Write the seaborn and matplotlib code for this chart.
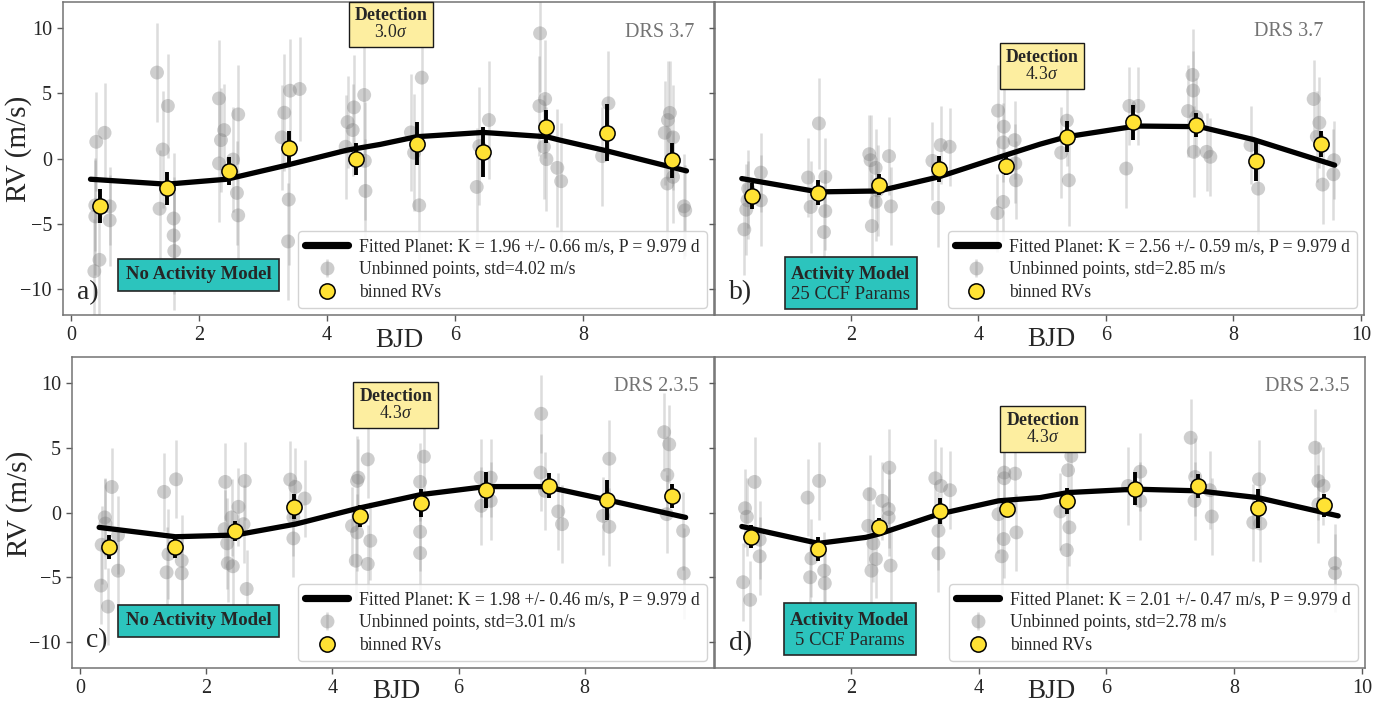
import numpy as np
import matplotlib
matplotlib.use("Agg")
import matplotlib.pyplot as plt
import seaborn as sns
from matplotlib.lines import Line2D

# ---------------- data ----------------
# panel a  (DRS 3.7, no activity model)
gray_x_a = [0.39, 0.52, 0.375, 0.60, 0.375, 0.60, 0.44, 0.36, 1.34, 1.51, 1.43, 1.38, 1.60, 1.60, 1.61,
            2.31, 2.61, 2.39, 2.34, 2.31, 2.53, 2.59, 2.61, 3.42, 3.57, 3.33, 3.29, 3.40, 3.39,
            4.58, 4.42, 4.32, 4.40, 4.29, 4.59, 4.60, 5.48, 5.31, 5.36, 5.44, 6.53, 6.38, 6.34,
            7.33, 7.41, 7.32, 7.39, 7.43, 7.60, 7.66, 8.40, 8.30, 9.36, 9.33, 9.28, 9.41, 9.41, 9.32, 9.58, 9.60]
gray_y_a = [1.28, 1.97, -3.59, -3.67, -4.44, -4.74, -7.77, -8.64, 6.59, 4.03, 0.69, -3.85, -4.60, -5.90, -7.10,
            4.60, 3.38, 2.18, 1.41, -0.38, -0.08, -2.64, -4.36, 5.20, 5.33, 3.51, 1.62, -3.15, -6.36,
            4.87, 3.92, 2.79, 2.18, 0.90, -0.18, -2.49, 6.20, 2.00, 0.44, -3.59, 2.95, 0.95, -2.18,
            9.60, 4.56, 4.03, 0.90, -0.05, -0.72, -1.74, 4.23, 0.18, 3.50, 2.95, 1.97, 1.62, -1.41, -1.92, -3.67, -3.97]
gray_e_a = [3.8, 3.8, 3.5, 3.0, 4.5, 3.5, 4.5, 4.0, 3.8, 4.0, 4.5, 4.5, 5.0, 4.5, 4.5,
            4.5, 3.8, 3.5, 4.0, 4.5, 4.0, 4.0, 3.5, 4.0, 4.0, 4.5, 4.0, 5.0, 4.5,
            4.5, 4.0, 3.5, 3.5, 4.0, 4.5, 4.0, 4.5, 4.5, 4.5, 4.5, 4.5, 4.5, 4.5,
            4.5, 4.5, 3.8, 4.0, 4.0, 4.5, 4.5, 4.0, 3.8, 4.0, 4.5, 4.0, 4.0, 3.5, 4.5, 4.0, 3.5]
bin_x_a = [0.45, 1.50, 2.46, 3.40, 4.45, 5.40, 6.44, 7.43, 8.37, 9.40]
bin_y_a = [-3.64, -2.30, -0.95, 0.77, -0.03, 1.15, 0.49, 2.44, 1.97, -0.13]
bin_e_a = [1.3, 1.3, 1.1, 1.35, 1.2, 1.65, 1.9, 1.25, 2.2, 1.35]
fit_x_a = [0.30, 1.49, 2.43, 3.37, 4.31, 4.83, 5.40, 6.44, 7.43, 7.64, 8.37, 9.62]
fit_y_a = [-1.59, -1.97, -1.59, -0.51, 0.64, 1.08, 1.67, 2.00, 1.67, 1.41, 0.59, -0.95]

# panel b  (DRS 3.7, activity model 25 CCF params)
gray_x_b = [0.59, 0.39, 0.59, 0.38, 0.36, 0.33, 1.50, 1.33, 1.60, 1.37, 1.60, 1.58,
            2.29, 2.60, 2.31, 2.39, 2.42, 2.39, 2.63, 2.33, 3.41, 3.55, 3.28, 3.37,
            4.31, 4.40, 4.39, 4.57, 4.58, 4.59, 4.39, 4.30, 5.39, 5.30, 5.42, 6.37, 6.51, 6.32,
            7.36, 7.37, 7.29, 7.42, 7.38, 7.58, 7.64, 8.27, 8.39, 9.26, 9.35, 9.31, 9.58, 9.57, 9.40]
gray_y_b = [-1.08, -2.31, -3.21, -3.20, -3.92, -5.44, 2.69, -1.46, -1.41, -3.72, -4.03, -5.64,
            0.33, 0.18, -0.13, -0.72, -2.44, -3.33, -3.67, -5.18, 1.03, 0.90, -0.18, -3.79,
            3.67, 2.44, 1.23, 1.41, -0.38, -1.67, -3.33, -4.18, 2.90, 0.44, -1.67, 4.03, 4.03, -0.77,
            6.41, 5.21, 3.64, 3.20, 0.51, 0.51, 0.13, 1.03, -2.31, 4.56, 2.74, 1.67, -0.13, -1.21, -2.00]
gray_e_b = [3.0, 3.0, 3.5, 3.0, 3.5, 3.5, 3.5, 3.0, 3.0, 3.5, 3.0, 3.0,
            3.0, 3.0, 3.5, 3.0, 3.5, 3.0, 3.0, 4.0, 3.0, 3.0, 3.0, 3.0,
            3.5, 3.0, 3.0, 3.0, 3.0, 3.0, 3.0, 3.0, 3.5, 3.5, 3.5, 3.0, 3.0, 3.0,
            3.5, 3.0, 3.5, 3.0, 3.5, 3.0, 3.0, 3.0, 3.5, 3.0, 3.5, 3.5, 3.0, 3.5, 3.0]
bin_x_b = [0.45, 1.49, 2.44, 3.38, 4.44, 5.39, 6.43, 7.42, 8.35, 9.38]
bin_y_b = [-2.87, -2.62, -2.00, -0.77, -0.56, 1.67, 2.77, 2.56, -0.21, 1.10]
bin_e_b = [1.0, 0.95, 0.8, 1.0, 0.7, 1.2, 1.35, 0.9, 1.5, 1.0]
fit_x_b = [0.29, 1.49, 2.44, 3.38, 4.43, 4.97, 5.39, 6.48, 7.48, 7.58, 8.31, 9.59]
fit_y_b = [-1.54, -2.56, -2.49, -1.41, 0.26, 1.10, 1.67, 2.49, 2.44, 2.31, 1.46, -0.51]

# panel c  (DRS 2.3.5, no activity model)
gray_x_c = [0.50, 0.39, 0.40, 0.60, 0.34, 0.60, 0.33, 0.44, 1.52, 1.33, 1.40, 1.61, 1.37, 1.61,
            2.30, 2.61, 2.51, 2.40, 2.29, 2.59, 2.33, 2.34, 2.42, 2.64, 3.33, 3.41, 3.56, 3.38, 3.38,
            4.41, 4.39, 4.56, 4.31, 4.39, 4.60, 4.37, 4.56, 5.45, 5.39, 5.39, 5.39,
            6.35, 6.51, 6.36, 6.51, 7.31, 7.30, 7.37, 7.58, 7.64, 8.39, 8.29, 8.39,
            9.26, 9.34, 9.31, 9.30, 9.56, 9.57]
gray_y_c = [1.97, -0.38, -0.85, -1.74, -2.49, -4.49, -5.64, -7.26, 2.56, 1.59, -3.21, -3.72, -4.62, -4.69,
            2.36, 2.44, 0.44, -0.38, -1.28, -0.90, -2.38, -3.92, -4.15, -5.90, 2.54, 1.97, 1.08, -0.38, -2.00,
            2.69, 2.44, 4.10, -1.03, -1.54, -2.18, -3.72, -3.97, 4.31, 2.36, -1.49, -3.13,
            2.69, 2.69, 0.51, 0.90, 7.62, 3.08, 1.67, 0.08, -0.90, 4.15, -0.26, -1.10,
            6.20, 5.26, 2.90, -0.13, -1.41, -4.69]
gray_e_c = [3.0, 3.0, 3.5, 3.0, 3.0, 3.0, 3.0, 3.0, 3.0, 3.0, 3.5, 3.5, 3.5, 3.0,
            3.0, 3.0, 3.0, 3.0, 3.0, 3.0, 3.5, 3.0, 3.0, 3.0, 3.0, 3.0, 3.0, 3.0, 3.0,
            3.0, 3.5, 3.0, 3.0, 3.0, 3.0, 3.0, 3.0, 3.5, 3.0, 3.0, 3.5,
            3.0, 3.0, 3.0, 3.0, 3.0, 3.0, 3.0, 3.0, 3.0, 3.0, 3.0, 3.0,
            3.0, 3.0, 3.0, 3.0, 3.0, 3.5]
bin_x_c = [0.45, 1.51, 2.45, 3.39, 4.44, 5.40, 6.43, 7.43, 8.36, 9.39]
bin_y_c = [-2.64, -2.64, -1.41, 0.46, -0.26, 0.72, 1.74, 2.05, 0.97, 1.28]
bin_e_c = [0.92, 0.88, 0.77, 1.0, 0.85, 1.1, 1.37, 0.96, 1.56, 0.95]
fit_x_c = [0.30, 1.51, 2.46, 3.41, 4.41, 5.40, 6.43, 7.41, 7.57, 8.36, 9.60]
fit_y_c = [-1.15, -1.87, -1.74, -0.90, 0.33, 1.38, 2.00, 2.00, 1.80, 0.97, -0.38]

# panel d  (DRS 2.3.5, activity model 5 CCF params)
gray_x_d = [0.49, 0.34, 0.37, 0.57, 0.57, 0.31, 0.42, 1.50, 1.32, 1.38, 1.58, 1.36, 1.59,
            2.60, 2.29, 2.49, 2.59, 2.59, 2.27, 2.35, 2.39, 2.32, 2.62, 3.32, 3.41, 3.55, 3.37, 3.37,
            4.40, 4.57, 4.40, 4.31, 4.59, 4.39, 4.36, 5.45, 5.40, 5.28, 5.42, 5.38,
            6.53, 6.34, 6.53, 7.32, 7.39, 7.38, 7.62, 7.65, 8.39, 8.30, 8.41,
            9.27, 9.32, 9.40, 9.32, 9.58, 9.58]
gray_y_d = [2.36, 0.33, -0.33, -2.10, -3.38, -5.38, -6.74, 2.44, 1.15, -3.54, -4.49, -5.00, -5.46,
            3.46, 1.41, 0.90, 0.26, -0.38, -1.03, -2.38, -3.59, -4.49, -4.10, 2.64, 2.05, 1.72, -1.41, -3.15,
            3.08, 3.00, 2.64, -0.13, -1.54, -2.05, -3.38, 4.36, 3.26, 0.08, -1.15, -2.90,
            3.15, 2.05, 0.90, 5.77, 2.74, 0.90, 1.72, -0.31, 2.56, -0.77, -0.85,
            5.00, 2.44, 2.05, 0.64, -3.92, -4.67]
gray_e_d = [3.5, 3.0, 3.0, 3.0, 3.0, 3.0, 3.0, 3.0, 3.0, 3.0, 3.0, 3.0, 3.0,
            3.0, 3.0, 3.0, 3.0, 3.0, 3.0, 3.0, 3.0, 3.0, 3.0, 3.0, 3.0, 3.0, 3.0, 3.0,
            3.0, 3.0, 3.0, 3.0, 3.0, 3.0, 3.0, 3.0, 3.0, 3.0, 3.0, 3.0,
            3.0, 3.0, 3.0, 3.0, 3.0, 3.0, 3.0, 3.0, 3.0, 3.0, 3.0,
            3.0, 3.0, 3.0, 3.0, 3.0, 3.0]
bin_x_d = [0.43, 1.49, 2.44, 3.39, 4.45, 5.39, 6.45, 7.44, 8.37, 9.41]
bin_y_d = [-1.87, -2.82, -1.10, 0.13, 0.26, 0.90, 1.85, 2.05, 0.31, 0.56]
bin_e_d = [0.9, 0.9, 0.7, 1.0, 0.64, 1.0, 1.28, 0.9, 1.47, 0.9]
fit_x_d = [0.29, 1.49, 2.23, 2.43, 3.37, 4.31, 4.96, 5.40, 6.45, 7.46, 7.67, 8.37, 9.63]
fit_y_d = [-1.08, -2.38, -1.92, -1.67, -0.13, 0.90, 1.15, 1.54, 1.80, 1.67, 1.54, 1.15, -0.26]

# text
panel_letters = ["a)", "b)", "c)", "d)"]
drs_labels = ["DRS 3.7", "DRS 3.7", "DRS 2.3.5", "DRS 2.3.5"]
detection_sigmas = ["3.0", "4.3", "4.3", "4.3"]
model_labels = ["No Activity Model", "Activity Model\n25 CCF Params",
                "No Activity Model", "Activity Model\n5 CCF Params"]
fit_K = ["1.96", "2.56", "1.98", "2.01"]
fit_Kerr = ["0.66", "0.59", "0.46", "0.47"]
unbinned_std = ["4.02", "2.85", "3.01", "2.78"]
period_label = "9.979"
xticks_left = [0, 2, 4, 6, 8]
xticks_right = [2, 4, 6, 8, 10]
yticks = [-10, -5, 0, 5, 10]

# ---------------- style ----------------
sns.set_theme(style="ticks")
plt.rcParams['font.family'] = ['Liberation Serif', 'DejaVu Serif']
plt.rcParams['mathtext.fontset'] = 'custom'
plt.rcParams['mathtext.rm'] = 'Liberation Serif'
plt.rcParams['mathtext.it'] = 'Liberation Serif:italic'
plt.rcParams['mathtext.bf'] = 'Liberation Serif:bold'

W, H = 1400, 712
fig = plt.figure(figsize=(W / 100, H / 100), dpi=100)
fig.patch.set_facecolor('white')

YELLOW = '#FFE234'
TEAL = '#2cc4bd'
PALE = '#fdeea0'
GRAY_M = (0.5, 0.5, 0.5, 0.4)
GRAY_E = (0.55, 0.55, 0.55, 0.3)

panels = [
    dict(gx=gray_x_a, gy=gray_y_a, ge=gray_e_a, bx=bin_x_a, by=bin_y_a, be=bin_e_a, fx=fit_x_a, fy=fit_y_a,
         box=(63, 714, 2, 315), left=True, det_y=10.3, mod=(1.99, -8.9), drs=(9.75, 9.64), let_y=-10.75,
         xl=(0.516, -0.083), yl=(-0.068, 0.53)),
    dict(gx=gray_x_b, gy=gray_y_b, ge=gray_e_b, bx=bin_x_b, by=bin_y_b, be=bin_e_b, fx=fit_x_b, fy=fit_y_b,
         box=(715, 1364, 2, 315), left=False, det_y=7.1, mod=(2.0, -9.6), drs=(9.42, 9.7), let_y=-10.75,
         xl=(0.518, -0.077), yl=None),
    dict(gx=gray_x_c, gy=gray_y_c, ge=gray_e_c, bx=bin_x_c, by=bin_y_c, be=bin_e_c, fx=fit_x_c, fy=fit_y_c,
         box=(72, 714, 357, 668), left=True, det_y=8.3, mod=(1.88, -8.36), drs=(9.81, 9.7), let_y=-10.4,
         xl=(0.506, -0.074), yl=(-0.082, 0.527)),
    dict(gx=gray_x_d, gy=gray_y_d, ge=gray_e_d, bx=bin_x_d, by=bin_y_d, be=bin_e_d, fx=fit_x_d, fy=fit_y_d,
         box=(715, 1365, 357, 668), left=False, det_y=6.45, mod=(1.98, -9.05), drs=(9.8, 9.7), let_y=-10.65,
         xl=(0.518, -0.077), yl=None),
]

for i, p in enumerate(panels):
    l, r, t, b = p['box']
    ax = fig.add_axes([l / W, 1 - b / H, (r - l) / W, (b - t) / H])
    ax.set_facecolor('white')

    # unbinned points
    ax.errorbar(p['gx'], p['gy'], yerr=p['ge'], fmt='none', ecolor=GRAY_E, elinewidth=1.8, zorder=1)
    sns.scatterplot(x=p['gx'], y=p['gy'], s=100, color=(0.5, 0.5, 0.5), alpha=0.38,
                    edgecolor='none', linewidth=0, ax=ax, zorder=2, legend=False)
    # fitted planet
    sns.lineplot(x=p['fx'], y=p['fy'], color='black', lw=3.8, sort=False, estimator=None,
                 ax=ax, zorder=3, legend=False)
    # binned RVs
    ax.errorbar(p['bx'], p['by'], yerr=p['be'], fmt='none', ecolor='black', elinewidth=2.8, zorder=4)
    sns.scatterplot(x=p['bx'], y=p['by'], s=120, color=YELLOW, edgecolor='black', linewidth=1.1,
                    ax=ax, zorder=5, legend=False)

    ax.set_xlim(-0.13, 10.05)
    ax.set_ylim(-12.0, 12.0)
    ax.set_yticks(yticks)
    if p['left']:
        ax.set_xticks(xticks_left)
        ax.set_ylabel('RV (m/s)', fontsize=21, va='center')
        ax.yaxis.set_label_coords(*p['yl'])
    else:
        ax.set_xticks(xticks_right)
        ax.set_yticklabels([])
        ax.tick_params(axis='y', length=0)
    ax.set_xlabel('BJD', fontsize=19.5, va='center')
    ax.xaxis.set_label_coords(*p['xl'])
    ax.tick_params(labelsize=14.5, length=4, width=1, color='0.35', direction='out', pad=4)
    for s in ax.spines.values():
        s.set_color('0.45')
        s.set_linewidth(1.1)

    # legend
    h_fit = Line2D([], [], color='black', lw=5.2)
    h_unb = ax.errorbar([np.nan], [np.nan], yerr=[1.0], fmt='o', ms=10, mfc=GRAY_M, mec='none',
                        ecolor=GRAY_E, elinewidth=1.8)
    h_bin = Line2D([], [], ls='', marker='o', ms=11, mfc=YELLOW, mec='black', mew=1.1)
    labels = [f"Fitted Planet: K = {fit_K[i]} +/- {fit_Kerr[i]} m/s, P = {period_label} d",
              f"Unbinned points, std={unbinned_std[i]} m/s",
              "binned RVs"]
    leg = ax.legend([h_fit, h_unb, h_bin], labels, loc='lower right', fontsize=12.7,
                    handlelength=2.4, handletextpad=0.65, labelspacing=0.33, borderpad=0.4,
                    borderaxespad=0.4, framealpha=0.85, edgecolor='0.8', fancybox=True)
    leg.set_zorder(10)

    # annotations
    ax.text(p['drs'][0], p['drs'][1], drs_labels[i], ha='right', va='center', fontsize=14.5,
            color='0.45', zorder=6)
    ax.text(5.0, p['det_y'], "$\\mathbf{Detection}$\n" + detection_sigmas[i] + "$\\sigma$",
            ha='center', va='center', fontsize=12.8, linespacing=1.05, zorder=7,
            bbox=dict(boxstyle='square,pad=0.3', fc=PALE, ec='0.1', lw=1.0))
    mtxt = model_labels[i]
    if "\n" in mtxt:
        first, second = mtxt.split("\n")
        mtxt = "$\\mathbf{" + first.replace(" ", "\\ ") + "}$\n" + second
        ax.text(p['mod'][0], p['mod'][1], mtxt, ha='center', va='center', fontsize=13.5,
                linespacing=1.05, zorder=7,
                bbox=dict(boxstyle='square,pad=0.3', fc=TEAL, ec='0.15', lw=1.2))
    else:
        ax.text(p['mod'][0], p['mod'][1], mtxt, ha='center', va='center', fontsize=13.5,
                fontweight='bold', zorder=7,
                bbox=dict(boxstyle='square,pad=0.4', fc=TEAL, ec='0.15', lw=1.2))
    ax.text(0.09, p['let_y'], panel_letters[i], ha='left', va='baseline', fontsize=20, zorder=7)

fig.savefig('out.png', dpi=100, facecolor='white')
